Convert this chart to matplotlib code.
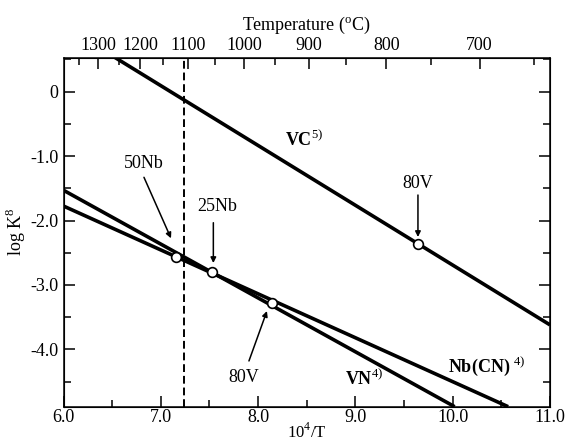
import numpy as np
import matplotlib
matplotlib.use("Agg")
import matplotlib.pyplot as plt

plt.rcParams['font.family'] = ['Liberation Serif', 'DejaVu Serif']
plt.rcParams['mathtext.fontset'] = 'custom'
plt.rcParams['mathtext.rm'] = 'Liberation Serif'
plt.rcParams['mathtext.bf'] = 'Liberation Serif:bold'

# line end points (x = 10^4/T, y = log K)
vc_x = [6.53, 11.0]
vc_y = [0.53, -3.62]
nbcn_x = [6.0, 10.57]
nbcn_y = [-1.775, -4.89]
vn_x = [6.0, 10.02]
vn_y = [-1.53, -4.89]

# marked points
pt_x = [7.153, 7.523, 8.14, 9.64]
pt_y = [-2.571, -2.804, -3.286, -2.365]

x_dash = 7.24

top_temps = [1300, 1200, 1100, 1000, 900, 800, 700]
top_minor = [1350, 1250, 1150, 1050, 950, 850, 750, 650]
x_ticks = [6.0, 7.0, 8.0, 9.0, 10.0, 11.0]
y_ticks = [0, -1.0, -2.0, -3.0, -4.0]
y_ticklabels = ['0', '-1.0', '-2.0', '-3.0', '-4.0']

FS = 13


def inv_t(c):
    return 1e4 / (np.asarray(c, dtype=float) + 273.0)


fig = plt.figure(figsize=(5.66, 4.41), dpi=100)
ax = fig.add_axes([0.1122, 0.0778, 0.8595, 0.7914])

ax.plot(vc_x, vc_y, color='k', lw=2.6, solid_capstyle='butt', zorder=3)
ax.plot(nbcn_x, nbcn_y, color='k', lw=2.6, solid_capstyle='butt', zorder=3)
ax.plot(vn_x, vn_y, color='k', lw=2.6, solid_capstyle='butt', zorder=3)
ax.axvline(x_dash, color='k', lw=1.4, dashes=(4, 2), zorder=2)
ax.plot(pt_x, pt_y, 'o', ms=7, mfc='white', mec='k', mew=1.2, zorder=5)

arrow = dict(arrowstyle='-|>', color='k', lw=1.1, mutation_scale=8,
             shrinkA=0, shrinkB=0)
ax.annotate('', xy=(7.105, -2.276), xytext=(6.827, -1.329), arrowprops=arrow)
ax.text(6.822, -1.112, '50Nb', ha='center', va='center', fontsize=FS)
ax.annotate('', xy=(7.54, -2.66), xytext=(7.54, -2.034), arrowprops=arrow)
ax.text(7.583, -1.786, '25Nb', ha='center', va='center', fontsize=FS)
ax.annotate('', xy=(9.643, -2.256), xytext=(9.643, -1.604), arrowprops=arrow)
ax.text(9.643, -1.428, '80V', ha='center', va='center', fontsize=FS)
ax.annotate('', xy=(8.091, -3.405), xytext=(7.906, -4.18), arrowprops=arrow)
ax.text(7.855, -4.43, '80V', ha='center', va='center', fontsize=FS)

ax.text(8.276, -0.739, r'$\mathbf{VC}^{5)}$', ha='left', va='center', fontsize=FS)
ax.text(9.951, -4.259, r'$\mathbf{Nb(CN)}^{\ 4)}$', ha='left', va='center', fontsize=FS)
ax.text(8.893, -4.461, r'$\mathbf{VN}^{4)}$', ha='left', va='center', fontsize=FS)

ax.set_xlim(6.0, 11.0)
ax.set_ylim(-4.89, 0.528)
ax.set_xticks(x_ticks)
ax.set_xticklabels([f'{v:.1f}' for v in x_ticks])
ax.set_xticks(np.arange(6.5, 11.0, 1.0), minor=True)
ax.set_yticks(y_ticks)
ax.set_yticklabels(y_ticklabels)
ax.set_yticks(np.arange(-4.5, 0.6, 1.0), minor=True)
ax.tick_params(which='both', direction='in', right=True, labelsize=FS, width=1.1)
ax.tick_params(axis='x', pad=2)
ax.tick_params(which='major', length=8)
ax.tick_params(which='minor', length=5)
ax.set_xlabel(r'10$^{4}$/T', fontsize=12, labelpad=-3)
ax.set_ylabel(r'log K$^{8}$', fontsize=FS, labelpad=2)
for s in ax.spines.values():
    s.set_linewidth(1.1)

top = ax.twiny()
top.set_xlim(ax.get_xlim())
top.set_xticks(inv_t(top_temps))
top.set_xticklabels([str(t) for t in top_temps])
top.set_xticks(inv_t(top_minor), minor=True)
top.tick_params(which='both', direction='in', labelsize=FS, width=1.1, pad=3)
top.tick_params(which='major', length=8)
top.tick_params(which='minor', length=5)
top.set_xlabel(r'Temperature ($^{\rm o}$C)', fontsize=FS, labelpad=5)

fig.savefig('out.png', dpi=100)
